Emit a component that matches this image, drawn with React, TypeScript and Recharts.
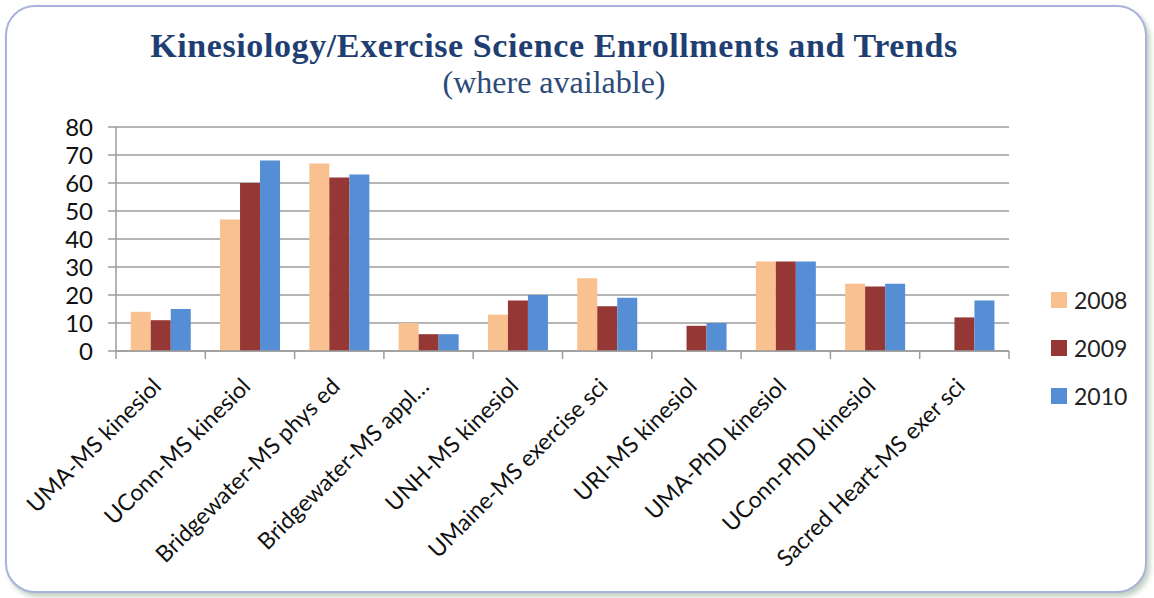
import { BarChart, Bar, XAxis, YAxis, CartesianGrid, Legend } from 'recharts';

// Programs (category axis)
const programs = [
  'UMA-MS kinesiol',
  'UConn-MS kinesiol',
  'Bridgewater-MS phys ed',
  'Bridgewater-MS appl…',
  'UNH-MS kinesiol',
  'UMaine-MS exercise sci',
  'URI-MS kinesiol',
  'UMA-PhD kinesiol',
  'UConn-PhD kinesiol',
  'Sacred Heart-MS exer sci',
];

// Enrollments per year (null = not available)
const y2008 = [14, 47, 67, 10, 13, 26, null, 32, 24, null];
const y2009 = [11, 60, 62, 6, 18, 16, 9, 32, 23, 12];
const y2010 = [15, 68, 63, 6, 20, 19, 10, 32, 24, 18];

const yTicks = [0, 10, 20, 30, 40, 50, 60, 70, 80];

const data = programs.map((name, i) => ({
  name,
  '2008': y2008[i],
  '2009': y2009[i],
  '2010': y2010[i],
}));

const colors: Record<string, string> = {
  '2008': '#F9C090',
  '2009': '#953735',
  '2010': '#558ED5',
};

const font = 'Lato, "Open Sans", sans-serif';
const axisGray = '#9C9C9C';

// label rotated -45deg plus the boundary tick marks between categories
function CategoryTick(props: any) {
  const { x, y, payload, index, visibleTicksCount } = props;
  const half = payload.offset || 0;
  const last = index === visibleTicksCount - 1;
  return (
    <g>
      <line x1={x - half} x2={x - half} y1={y} y2={y + 8} stroke={axisGray} strokeWidth={1.5} />
      {last && (
        <line x1={x + half} x2={x + half} y1={y} y2={y + 8} stroke={axisGray} strokeWidth={1.5} />
      )}
      <g transform={`translate(${x + 2},${y + 37})`}>
        <text
          transform="rotate(-45)"
          textAnchor="end"
          fontSize={23}
          fontFamily={font}
          fill="#111"
        >
          {payload.value}
        </text>
      </g>
    </g>
  );
}

function LegendBox(props: any) {
  const { payload } = props;
  return (
    <div style={{ fontFamily: font }}>
      {payload.map((p: any) => (
        <div
          key={p.value}
          style={{ display: 'flex', alignItems: 'center', height: 48 }}
        >
          <span
            style={{
              width: 16,
              height: 16,
              background: p.color,
              marginRight: 7,
              display: 'inline-block',
            }}
          />
          <span style={{ fontSize: 23, color: '#222' }}>{p.value}</span>
        </div>
      ))}
    </div>
  );
}

export default function App() {
  return (
    <div
      style={{
        position: 'fixed',
        left: 0,
        top: 0,
        width: 1154,
        height: 598,
        background: '#fff',
      }}
    >
      <div
        style={{
          position: 'absolute',
          left: 5,
          top: 5,
          width: 1138,
          height: 584,
          border: '2px solid #A9B2D8',
          borderRadius: 30,
          boxShadow: '3px 4px 5px rgba(120,150,120,0.45)',
          background: '#fff',
        }}
      />
      <div
        style={{
          position: 'absolute',
          left: 0,
          top: 27,
          width: 1108,
          textAlign: 'center',
          fontFamily: '"Liberation Serif", "DejaVu Serif", serif',
          color: '#1F3F73',
        }}
      >
        <div style={{ fontSize: 34, lineHeight: '38px', fontWeight: 'bold', letterSpacing: 0.6 }}>
          Kinesiology/Exercise Science Enrollments and Trends
        </div>
        <div style={{ fontSize: 32, lineHeight: '34px', color: '#2D4A78' }}>
          (where available)
        </div>
      </div>
      <div style={{ position: 'absolute', left: 0, top: 0 }}>
        <BarChart
          width={1154}
          height={598}
          data={data}
          margin={{ top: 127, right: 145, bottom: 7, left: 56 }}
          barCategoryGap="16.5%"
          barGap={0}
        >
          <CartesianGrid vertical={false} stroke={axisGray} strokeWidth={1.5} />
          <XAxis
            dataKey="name"
            interval={0}
            height={240}
            tick={<CategoryTick />}
            tickLine={false}
            tickSize={0}
            tickMargin={0}
            axisLine={{ stroke: axisGray, strokeWidth: 1.5 }}
          />
          <YAxis
            width={60}
            domain={[0, 80]}
            ticks={yTicks}
            interval={0}
            tick={{ fontSize: 24, fill: '#111', fontFamily: font }}
            tickLine={{ stroke: axisGray, strokeWidth: 1.5 }}
            tickSize={8}
            tickMargin={15}
            axisLine={{ stroke: axisGray, strokeWidth: 1.5 }}
          />
          <Legend
            layout="vertical"
            align="center"
            verticalAlign="middle"
            content={<LegendBox />}
            wrapperStyle={{ left: 1051, top: 276, width: 100 }}
          />
          {['2008', '2009', '2010'].map((k) => (
            <Bar
              key={k}
              dataKey={k}
              name={k}
              fill={colors[k]}
              isAnimationActive={false}
            />
          ))}
        </BarChart>
      </div>
    </div>
  );
}
